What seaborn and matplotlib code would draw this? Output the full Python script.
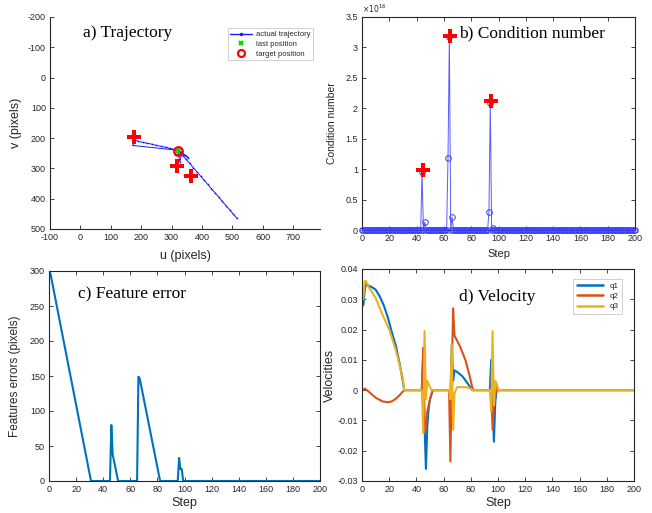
import numpy as np
import pandas as pd
import matplotlib
matplotlib.use("Agg")
import matplotlib.pyplot as plt
from matplotlib.lines import Line2D
import seaborn as sns

sns.set_theme(style="white")
plt.rcParams['font.family'] = ['Liberation Sans', 'DejaVu Sans']
plt.rcParams['axes.unicode_minus'] = False

# ---------------- data ----------------
# a) trajectory (u, v) in pixels
traj_u = [515, 503, 491, 479, 467, 455, 443, 431, 419, 407, 395, 383, 371, 359, 348, 338, 330, 325, 322, 320,
          355, 345, 333, 325, 320,
          172, 178, 190, 205, 220, 235, 250, 265, 280, 295, 308, 316, 320,
          327, 332, 323, 320]
traj_v = [465, 451, 437, 423, 409, 395, 381, 367, 353, 339, 325, 311, 297, 283, 270, 258, 249, 244, 241, 240,
          264, 257, 249, 243, 240,
          224, 205, 211, 214, 217, 220, 224, 227, 230, 234, 237, 239, 240,
          278, 256, 245, 240]
last_pos = (322, 241)
target_pos = (322, 241)
features_u = [177, 318, 365]
features_v = [195, 292, 326]

# b) condition number (units of 1e16)
cond_steps = list(range(0, 201))
cond_spikes = {44: 0.95, 46: 0.13, 63: 1.19, 64: 3.17, 66: 0.21, 93: 0.30, 94: 2.08, 96: 0.04}
cond_mark_x = [45, 64.5, 94.5]
cond_mark_y = [0.98, 3.19, 2.12]

# c) feature error
err_steps = [0, 1, 31, 45, 46, 47, 51, 65, 66, 67, 82, 95, 96, 97, 98, 99, 200]
err_vals = [297, 297, 0, 0, 80, 38, 0, 0, 149, 146, 0, 0, 33, 17, 17, 0, 0]

# d) velocities
q1_steps = [1, 2, 3, 5, 8, 10, 13, 16, 19, 22, 25, 28, 30, 31, 44, 45, 46, 47, 48, 49, 50, 52,
            64, 65, 66, 67, 68, 70, 74, 78, 81, 82, 94, 95, 96, 97, 98, 99, 100, 200]
q1_vals = [0.028, 0.033, 0.035, 0.0345, 0.0338, 0.0332, 0.031, 0.028, 0.024, 0.019, 0.0145, 0.008, 0.003, 0.0,
           0.0, 0.012, -0.012, -0.026, -0.012, -0.006, -0.003, 0.0,
           0.0, -0.003, 0.015, 0.003, 0.0065, 0.006, 0.0045, 0.002, 0.0, 0.0,
           0.0, 0.010, -0.005, -0.017, -0.004, 0.0, 0.0, 0.0]
q2_steps = [0, 2, 5, 10, 15, 19, 22, 25, 28, 31, 44, 45, 46, 47, 48, 50, 52,
            64, 65, 66, 67, 68, 72, 76, 79, 81, 82, 95, 96, 97, 98, 99, 100, 200]
q2_vals = [0.0, 0.0005, -0.0005, -0.0025, -0.0037, -0.004, -0.0037, -0.0028, -0.0015, 0.0,
           0.0, 0.014, -0.014, -0.012, -0.007, -0.003, 0.0,
           0.0, -0.0235, 0.005, 0.027, 0.018, 0.0145, 0.010, 0.005, 0.001, 0.0,
           0.0, -0.013, -0.005, -0.002, 0.002, 0.0, 0.0]
q3_steps = [1, 2, 3, 5, 10, 15, 20, 25, 30, 31, 44, 45, 46, 47, 48, 49, 51,
            64, 65, 66, 67, 68, 70, 76, 80, 81, 94, 95, 96, 97, 98, 99, 100, 200]
q3_vals = [0.030, 0.036, 0.036, 0.034, 0.0305, 0.025, 0.020, 0.013, 0.004, 0.0,
           0.0, -0.014, 0.0195, -0.003, 0.003, 0.002, 0.0,
           0.0, -0.003, 0.015, -0.013, -0.001, 0.001, 0.001, 0.0005, 0.0,
           0.0, -0.007, 0.0195, -0.005, 0.003, 0.002, 0.0, 0.0]

MBLUE = '#0072BD'
MORANGE = '#D95319'
MYELLOW = '#EDB120'
TICK = '#262626'

W, H = 652, 513
fig = plt.figure(figsize=(W / 100, H / 100), dpi=100)


def box(l, t, r, b):
    return [l / W, (H - b) / H, (r - l) / W, (b - t) / H]


def style(ax, full=True):
    for s in ['left', 'bottom', 'top', 'right']:
        ax.spines[s].set_visible(full or s in ('left', 'bottom'))
        ax.spines[s].set_color('#262626')
        ax.spines[s].set_linewidth(0.8)
    ax.tick_params(direction='in', length=3, width=0.6, labelsize=6.5, colors=TICK,
                   top=full, right=full, bottom=True, left=True, pad=3)


title_kw = dict(family=['Liberation Serif', 'DejaVu Serif'], fontsize=12.5, color='black', va='center')

# ---------- a) ----------
axa = fig.add_axes(box(50, 17, 320, 229))
traj_df = pd.DataFrame({'u': traj_u, 'v': traj_v})
sns.lineplot(data=traj_df, x='u', y='v', sort=False, estimator=None, ax=axa, color='#1a1aff',
             lw=0.7, marker='.', markersize=2.5, markeredgewidth=0, legend=False)
sns.scatterplot(x=list(features_u), y=list(features_v), ax=axa, marker='P', s=100, color='red',
                edgecolor='red', linewidth=0, zorder=5, legend=False)
axa.plot([target_pos[0]], [target_pos[1]], 'o', ms=6, mfc='none', mec='red', mew=1.8, ls='none', zorder=6)
axa.plot([last_pos[0]], [last_pos[1]], 'x', ms=3, color='#00dd00', mew=1.5, ls='none', zorder=7)
axa.set_xlim(-100, 788)
axa.set_ylim(500, -200)
axa.set_xticks(range(-100, 701, 100))
axa.set_yticks(range(-200, 501, 100))
style(axa, full=False)
axa.set_xlabel('u (pixels)', fontsize=9, labelpad=6)
axa.set_ylabel('v (pixels)', fontsize=9, labelpad=4)
handles = [
    Line2D([], [], color='#1a1aff', lw=1.0, marker='.', ms=3),
    Line2D([], [], color='#00dd00', marker='x', ls='none', ms=3.5, mew=1.5),
    Line2D([], [], color='red', marker='o', ls='none', ms=5, mfc='none', mew=1.6),
]
leg = axa.legend(handles, ['actual trajectory', 'last position', 'target position'], loc='upper right',
                 bbox_to_anchor=(0.99, 0.965), fontsize=5.5, frameon=True, fancybox=False,
                 edgecolor='#bbbbbb', handlelength=2.8, borderpad=0.35, labelspacing=0.3, handletextpad=0.6)
leg.get_frame().set_linewidth(0.6)
axa.text((83 - 50) / 270, 1 - (33 - 17) / 212, 'a) Trajectory', transform=axa.transAxes, **title_kw)

# ---------- b) ----------
axb = fig.add_axes(box(362, 17, 635, 230))
cond_vals = np.zeros(len(cond_steps))
for k, v in cond_spikes.items():
    cond_vals[k] = v
cond_df = pd.DataFrame({'step': cond_steps, 'val': cond_vals})
sns.lineplot(data=cond_df, x='step', y='val', ax=axb, color='#5a5aff', lw=0.7, marker='o',
             markersize=4, markerfacecolor='none', markeredgecolor='#3a3aff', markeredgewidth=0.7,
             estimator=None, clip_on=False, zorder=3)
sns.scatterplot(x=cond_mark_x, y=cond_mark_y, ax=axb, marker='P', s=100,
                color='red', edgecolor='red', linewidth=0, zorder=5, legend=False)
axb.set_xlim(0, 200)
axb.set_ylim(0, 3.5)
axb.set_xticks(range(0, 201, 20))
yt = [0, 0.5, 1, 1.5, 2, 2.5, 3, 3.5]
axb.set_yticks(yt)
axb.set_yticklabels(['0', '0.5', '1', '1.5', '2', '2.5', '3', '3.5'])
style(axb)
axb.text(0.0, 1.01, r'$\times10^{16}$', transform=axb.transAxes, fontsize=5.5, color=TICK,
         ha='left', va='bottom')
axb.set_xlabel('Step', fontsize=8, labelpad=4)
axb.set_ylabel('Condition number', fontsize=7.5, labelpad=6)
axb.text((459 - 362) / 273, 1 - (33 - 17) / 213, 'b) Condition number', transform=axb.transAxes, **title_kw)

# ---------- c) ----------
axc = fig.add_axes(box(49, 271, 320, 481))
err_df = pd.DataFrame({'step': err_steps, 'err': err_vals})
sns.lineplot(data=err_df, x='step', y='err', ax=axc, color=MBLUE, lw=1.5, estimator=None)
axc.set_xlim(0, 200)
axc.set_ylim(0, 300)
axc.set_xticks(range(0, 201, 20))
axc.set_yticks(range(0, 301, 50))
style(axc)
axc.set_xlabel('Step', fontsize=9, labelpad=2)
axc.set_ylabel('Features errors (pixels)', fontsize=8.5, labelpad=6)
axc.text((78 - 49) / 271, 1 - (294 - 271) / 210, 'c) Feature error', transform=axc.transAxes, **title_kw)

# ---------- d) ----------
axd = fig.add_axes(box(362, 269, 634, 481))
vel_df = pd.concat([
    pd.DataFrame({'step': q1_steps, 'vel': q1_vals, 'joint': 'q1'}),
    pd.DataFrame({'step': q2_steps, 'vel': q2_vals, 'joint': 'q2'}),
    pd.DataFrame({'step': q3_steps, 'vel': q3_vals, 'joint': 'q3'}),
])
sns.lineplot(data=vel_df, x='step', y='vel', hue='joint', palette=[MBLUE, MORANGE, MYELLOW],
             ax=axd, lw=1.5, estimator=None, sort=False)
axd.set_xlim(0, 200)
axd.set_ylim(-0.03, 0.04)
axd.set_xticks(range(0, 201, 20))
axd.set_yticks(np.round(np.arange(-0.03, 0.041, 0.01), 2))
axd.set_yticklabels(['-0.03', '-0.02', '-0.01', '0', '0.01', '0.02', '0.03', '0.04'])
style(axd)
axd.set_xlabel('Step', fontsize=9, labelpad=2)
axd.set_ylabel('Velocities', fontsize=9, labelpad=1)
leg = axd.legend(loc='upper right', bbox_to_anchor=(0.97, 0.97), fontsize=5.8, frameon=True,
                 fancybox=False, edgecolor='#bbbbbb', handlelength=3.3, borderpad=0.4,
                 labelspacing=0.3, title=None)
leg.get_frame().set_linewidth(0.6)
for line in leg.get_lines():
    line.set_linewidth(1.8)
axd.text((459 - 362) / 272, 1 - (297 - 269) / 212, 'd) Velocity', transform=axd.transAxes, **title_kw)

fig.savefig('out.png', dpi=100, facecolor='white')
